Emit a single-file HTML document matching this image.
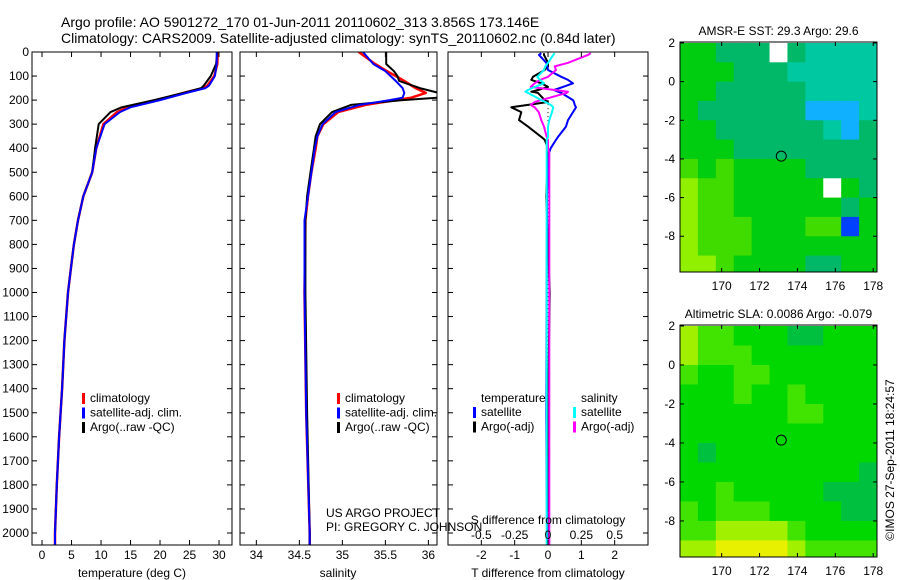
<!DOCTYPE html>
<html><head><meta charset="utf-8"><style>
body{margin:0;background:#fff;}
svg{display:block;font-family:"Liberation Sans",sans-serif;}
</style></head><body>
<svg id="c" width="900" height="580" viewBox="0 0 900 580">
<text x="61" y="27" font-size="14">Argo profile: AO 5901272_170 01-Jun-2011 20110602_313 3.856S 173.146E</text>
<text x="61" y="43" font-size="14">Climatology: CARS2009. Satellite-adjusted climatology: synTS_20110602.nc (0.84d later)</text>
<text x="326" y="517" font-size="12">US ARGO PROJECT</text>
<text x="326" y="531" font-size="12">PI: GREGORY C. JOHNSON</text>
<text transform="translate(894,460) rotate(-90)" text-anchor="middle" font-size="12">©IMOS 27-Sep-2011 18:24:57</text>
</svg>
<script>
// ---- data ----
const depthT=[0,50,100,140,150,170,200,230,250,300,400,500,600,700,800,900,1000,1200,1400,1600,1800,2000,2050];
const tempClim=[29.8,29.7,29.2,28.0,27.3,24,19.5,14.5,12.7,10.4,9.2,8.5,7.0,6.1,5.4,4.9,4.4,3.8,3.4,2.9,2.5,2.2,2.2];
const tempArgo=[29.7,29.5,28.6,27.4,27.0,24,19.0,13.5,11.6,9.6,9.0,8.5,7.0,6.1,5.4,4.9,4.4,3.8,3.4,2.9,2.5,2.2,2.2];
const tempSat=[29.6,29.6,29.3,28.3,27.7,24.5,20.0,15.0,13.2,10.6,9.2,8.5,7.0,6.1,5.4,4.9,4.4,3.8,3.4,2.9,2.5,2.2,2.2];
const depthS=[0,50,80,100,120,150,170,190,200,220,250,300,350,400,500,600,700,1000,1500,2000,2050];
const salClim=[35.19,35.38,35.52,35.62,35.72,35.85,35.97,35.8,35.62,35.27,34.95,34.78,34.71,34.69,34.64,34.6,34.57,34.56,34.58,34.62,34.62];
const salArgo=[35.51,35.51,35.6,35.64,35.66,35.9,36.12,36.1,35.7,35.1,34.88,34.74,34.69,34.67,34.63,34.59,34.57,34.57,34.59,34.62,34.62];
const salSat=[35.24,35.36,35.5,35.56,35.62,35.7,35.72,35.7,35.55,35.2,34.92,34.77,34.71,34.68,34.64,34.6,34.56,34.56,34.58,34.62,34.62];
const dDep=[5,12,45,60,75,103,116,130,145,158,165,170,200,208,220,230,250,283,310,353,365,400,420,600,1000,1500,2000,2050];
const dTsat=[-0.2,-0.27,-0.05,-0.02,0,0.4,0.6,0.75,0.45,0.18,0.3,0.4,0.75,0.78,0.8,0.84,0.75,0.6,0.54,0.3,0.24,0.08,0.03,-0.03,-0.04,-0.05,-0.03,-0.03];
const dTargo=[-0.12,-0.12,0,0,-0.1,-0.45,-0.5,-0.2,0,-0.3,-0.5,-0.3,-0.1,0,-0.6,-1.1,-0.8,-0.87,-0.6,-0.2,-0.1,0,0,-0.05,0.05,0,0.02,0.02];
const dSsat=[0.05,0.04,0,-0.02,-0.03,-0.08,-0.06,-0.03,-0.1,-0.15,-0.17,-0.15,-0.05,-0.02,0.02,0.04,0.03,0.01,0,0,-0.01,-0.01,-0.01,-0.01,-0.01,-0.01,-0.01,-0.01];
const dSargo=[0.32,0.3,0.15,0.05,0.06,0,-0.06,-0.1,-0.13,0.05,0.15,0.14,-0.05,-0.1,-0.13,-0.1,-0.07,-0.05,-0.03,-0.01,0,0,0.01,0.01,0.01,0.01,0.01,0.01];
const depthTicks=[0,100,200,300,400,500,600,700,800,900,1000,1100,1200,1300,1400,1500,1600,1700,1800,1900,2000];
const tTicks=[0,5,10,15,20,25,30];
const sTicks=[34,34.5,35,35.5,36];
const dTTicks=[-2,-1,0,1,2];
const dSTicks=[-0.5,-0.25,0,0.25,0.5];
const lonTicks=[170,172,174,176,178];
const latTicks=[2,0,-2,-4,-6,-8];
const floatLon=173.146, floatLat=-3.856;
const sstPalette=['#0040ff','#10b0ff','#00c8a0','#00b868','#00cc10','#40dc00','#90f000','#e0f000'];
const slaPalette=['#0040ff','#10b0ff','#00c8a0','#00c040','#00d800','#40e400','#a0f000','#e8f000'];
const sstGrid=[
[4,4,3,3,3,-1,3,2,2,2,2],[4,4,4,3,3,3,2,2,2,2,2],[4,4,3,3,3,3,3,2,2,2,2],
[4,3,3,3,3,3,3,1,1,1,2],[4,4,3,3,3,3,3,3,2,1,3],[4,4,4,3,3,3,3,3,3,3,3],
[5,4,5,4,4,4,4,3,3,3,3],[6,5,5,4,4,4,4,4,-1,4,3],[6,5,5,4,4,4,4,4,4,3,4],
[6,5,5,5,4,4,4,5,5,0,4],[6,5,5,5,4,4,4,4,4,4,4],[6,6,5,4,4,4,4,3,3,4,4]];
const slaGrid=[
[6,5,5,4,4,4,3,3,4,4,4],[6,5,5,5,4,4,4,4,4,4,4],[5,4,4,5,5,4,4,4,4,4,4],
[4,4,4,5,4,4,5,4,4,4,4],[4,4,4,4,4,4,5,5,4,4,4],[4,4,4,4,4,4,4,4,4,4,4],
[4,3,4,4,4,4,4,4,4,4,4],[4,4,4,4,4,4,4,4,4,4,3],[4,4,5,4,4,4,4,4,3,3,3],
[5,4,5,5,5,4,4,4,4,3,3],[5,5,6,6,6,6,5,4,4,4,4],[6,6,7,7,7,7,6,5,5,5,5]];

const NS='http://www.w3.org/2000/svg';
const svg=document.getElementById('c');
function mk(tag,attrs,parent){const e=document.createElementNS(NS,tag);for(const k in attrs)e.setAttribute(k,attrs[k]);(parent||svg).appendChild(e);return e;}
function txt(x,y,s,anchor,size,parent){const t=mk('text',{x:x,y:y,'text-anchor':anchor||'start','font-size':size||12},parent);t.textContent=s;return t;}

const PT=52, PB=545;
const yD=d=>PT+d*0.2405;

function panel(name,x0,x1,xmin,xmax){
  const g=mk('g',{});
  
  
  const sx=v=>x0+(v-xmin)/(xmax-xmin)*(x1-x0);
  const cp=mk('clipPath',{id:'cp'+name},g);
  mk('rect',{x:x0,y:PT,width:x1-x0,height:PB-PT},cp);
  return {g,sx,x0,x1};
}
function frame(p){
  const r=mk('rect',{x:p.x0,y:PT,width:p.x1-p.x0,height:PB-PT,fill:'none',stroke:'#000','stroke-width':1},p.g);
  
  
  depthTicks.forEach(d=>{
    mk('line',{x1:p.x0,x2:p.x0+5,y1:yD(d),y2:yD(d),stroke:'#000'},p.g);
    mk('line',{x1:p.x1,x2:p.x1-5,y1:yD(d),y2:yD(d),stroke:'#000'},p.g);
  });
}
function xTicks(p,ticks,fmt,y,top){
  ticks.forEach(v=>{
    const x=p.sx(v);
    mk('line',{x1:x,x2:x,y1:PB,y2:PB-5,stroke:'#000'},p.g);
    if(top) mk('line',{x1:x,x2:x,y1:PT,y2:PT+5,stroke:'#000'},p.g);
    const t=txt(x,y,fmt(v),'middle',12,p.g);
    
    
  });
}
function line(p,xs,ds,sxf,color,w,name){
  const pts=xs.map((v,i)=>sxf(v).toFixed(1)+','+yD(ds[i]).toFixed(1)).join(' ');
  const l=mk('polyline',{points:pts,fill:'none',stroke:color,'stroke-width':w,'clip-path':'url(#cp'+p.name+')','stroke-linejoin':'round'},p.g);
  
  
}
function legend(p,x,y,items){
  items.forEach((it,i)=>{
    const yy=y+i*14.5;
    mk('rect',{x:x,y:yy-9,width:3,height:11,fill:it[1]},p.g);
    const t=txt(x+8,yy,it[0],'start',12,p.g);
    
    
  });
}

const p1=panel('temperature-panel',32,232,-1.7,32.2);p1.name='temperature-panel';
depthTicks.forEach(d=>{const t=txt(29,yD(d)+4,String(d),'end',12);});
line(p1,tempClim,depthT,p1.sx,'#ff0000',2.5,'temperature-climatology-line');
line(p1,tempArgo,depthT,p1.sx,'#000',2,'temperature-argo-line');
line(p1,tempSat,depthT,p1.sx,'#0000ff',2,'temperature-satellite-line');
frame(p1);xTicks(p1,tTicks,String,559,true);
let t1=txt(132,577,'temperature (deg C)','middle',12);
legend(p1,82,402,[['climatology','#ff0000'],['satellite-adj. clim.','#0000ff'],['Argo(..raw -QC)','#000']]);

const p2=panel('salinity-panel',240,437,33.81,36.1);p2.name='salinity-panel';
line(p2,salClim,depthS,p2.sx,'#ff0000',2.5,'salinity-climatology-line');
line(p2,salArgo,depthS,p2.sx,'#000',2,'salinity-argo-line');
line(p2,salSat,depthS,p2.sx,'#0000ff',2,'salinity-satellite-line');
frame(p2);xTicks(p2,sTicks,String,559,true);
let t2=txt(338,577,'salinity','middle',12);
legend(p2,337,402,[['climatology','#ff0000'],['satellite-adj. clim.','#0000ff'],['Argo(..raw -QC)','#000']]);

const p3=panel('difference-panel',448,648,-3,3);p3.name='difference-panel';
const sxS=v=>p3.sx(v*4);
const zl=mk('line',{x1:p3.sx(0),x2:p3.sx(0),y1:yD(200),y2:PB,stroke:'#000','stroke-dasharray':'1,3'},p3.g);

line(p3,dTargo,dDep,p3.sx,'#000',2,'temp-diff-argo-line');
line(p3,dTsat,dDep,p3.sx,'#0000ff',2,'temp-diff-satellite-line');
line(p3,dSargo,dDep,sxS,'#ff00ff',2,'sal-diff-argo-line');
line(p3,dSsat,dDep,sxS,'#00ffff',2,'sal-diff-satellite-line');
frame(p3);xTicks(p3,dTTicks,String,559,true);
dSTicks.forEach(v=>{const t=txt(sxS(v),539,String(v),'middle',12,p3.g);});
let t3=txt(548,524,'S difference from climatology','middle',12);
let t4=txt(548,577,'T difference from climatology','middle',12);
txt(481,402,'temperature','start',12,p3.g);txt(581,402,'salinity','start',12,p3.g);
legend(p3,473,416,[['satellite','#0000ff'],['Argo(-adj)','#000']]);
legend(p3,573,416,[['satellite','#00ffff'],['Argo(-adj)','#ff00ff']]);

function map(name,y0,y1,grid,pal,title){
  const x0=680,x1=877,lonMin=167.8,lonMax=178.2,latMax=2.05,latMin=-9.85;
  const g=mk('g',{});
  
  
  const sx=v=>x0+(v-lonMin)/(lonMax-lonMin)*(x1-x0);
  const sy=v=>y0+(latMax-v)/(latMax-latMin)*(y1-y0);
  const cp=mk('clipPath',{id:'cp'+name},g);mk('rect',{x:x0,y:y0,width:x1-x0,height:y1-y0},cp);
  const cg=mk('g',{'clip-path':'url(#cp'+name+')'},g);
  const nc=grid[0].length,cw=(lonMax-lonMin)/nc;
  grid.forEach((row,r)=>row.forEach((v,c)=>{
    const la=2-r, lo=lonMin+c*cw;
    const rc=mk('rect',{x:sx(lo),y:sy(la),width:sx(lo+cw)-sx(lo)+0.5,height:sy(la-1)-sy(la)+0.5,fill:v<0?'#fff':pal[v]},cg);
    
    
  }));
  const fc=mk('circle',{cx:sx(floatLon),cy:sy(floatLat),r:5,fill:'none',stroke:'#000'},g);
  
  mk('rect',{x:x0,y:y0,width:x1-x0,height:y1-y0,fill:'none',stroke:'#000'},g);
  lonTicks.forEach(v=>{const x=sx(v);mk('line',{x1:x,x2:x,y1:y1,y2:y1-4,stroke:'#000'},g);mk('line',{x1:x,x2:x,y1:y0,y2:y0+4,stroke:'#000'},g);
    const t=txt(x,y1+18,String(v),'middle',12,g);});
  latTicks.forEach(v=>{const y=sy(v);mk('line',{x1:x0,x2:x0+4,y1:y,y2:y,stroke:'#000'},g);mk('line',{x1:x1,x2:x1-4,y1:y,y2:y,stroke:'#000'},g);
    const t=txt(675,y+4,String(v),'end',12,g);});
  const tt=txt((x0+x1)/2,y0-7,title,'middle',12,g);
}
map('sst-map',42,272,sstGrid,sstPalette,'AMSR-E SST: 29.3 Argo: 29.6');
map('sla-map',325,557,slaGrid,slaPalette,'Altimetric SLA: 0.0086 Argo: -0.079');
</script>
</body></html>
